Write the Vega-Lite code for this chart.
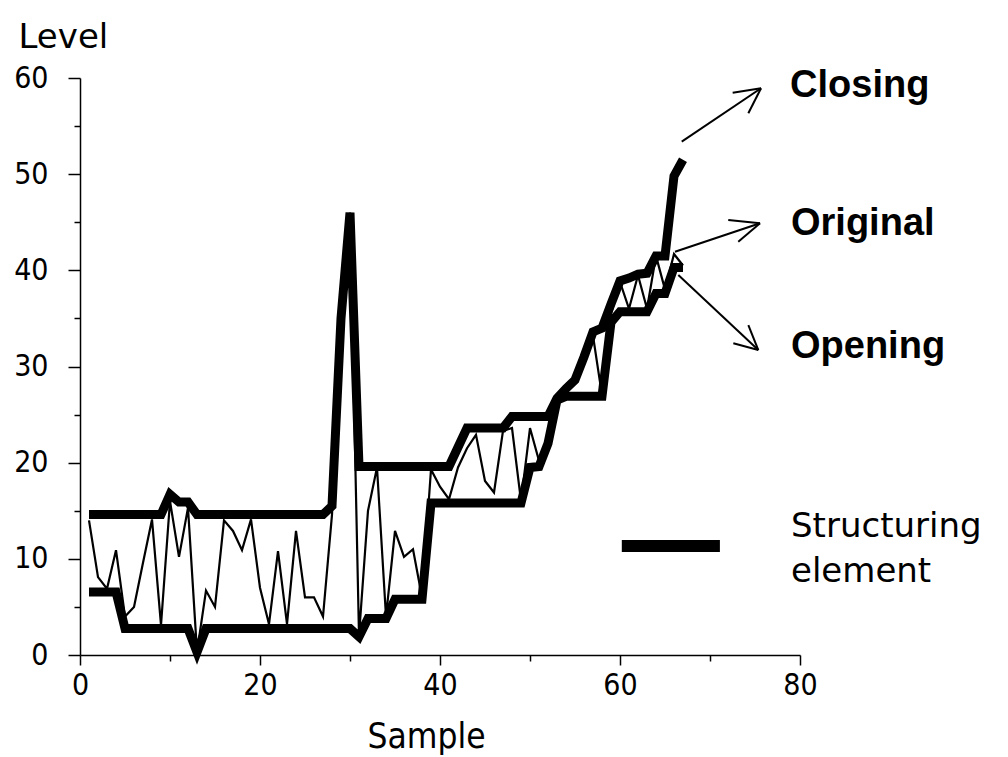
{
  "$schema": "https://vega.github.io/schema/vega-lite/v6.json",
  "width": 720,
  "height": 577,
  "autosize": {"type": "none"},
  "padding": {"left": 80, "top": 78, "right": 208, "bottom": 102},
  "background": "white",
  "config": {"view": {"stroke": null}},
  "datasets": {
    "orig": [
      {"sample":1,"level":14.0},{"sample":2,"level":8.1},{"sample":3,"level":6.9},{"sample":4,"level":10.9},{"sample":5,"level":4.0},{"sample":6,"level":5.0},{"sample":7,"level":9.6},{"sample":8,"level":14.1},{"sample":9,"level":3.1},{"sample":10,"level":16.0},{"sample":11,"level":10.2},{"sample":12,"level":15.3},{"sample":13,"level":0.3},{"sample":14,"level":6.7},{"sample":15,"level":5.0},{"sample":16,"level":14.0},{"sample":17,"level":12.9},{"sample":18,"level":10.9},{"sample":19,"level":14.1},{"sample":20,"level":7.0},{"sample":21,"level":3.2},{"sample":22,"level":10.8},{"sample":23,"level":3.2},{"sample":24,"level":12.9},{"sample":25,"level":6.0},{"sample":26,"level":6.0},{"sample":27,"level":4.0},{"sample":28,"level":14.6},{"sample":29,"level":35.0},{"sample":30,"level":46.0},{"sample":31,"level":2.0},{"sample":32,"level":15.0},{"sample":33,"level":19.5},{"sample":34,"level":4.0},{"sample":35,"level":12.9},{"sample":36,"level":10.2},{"sample":37,"level":11.0},{"sample":38,"level":6.0},{"sample":39,"level":19.3},{"sample":40,"level":17.5},{"sample":41,"level":16.2},{"sample":42,"level":19.5},{"sample":43,"level":21.5},{"sample":44,"level":22.9},{"sample":45,"level":18.1},{"sample":46,"level":16.9},{"sample":47,"level":23.3},{"sample":48,"level":23.6},{"sample":49,"level":16.0},{"sample":50,"level":23.6},{"sample":51,"level":20.2},{"sample":52,"level":22.0},{"sample":53,"level":26.5},{"sample":54,"level":27.5},{"sample":55,"level":28.5},{"sample":56,"level":31.0},{"sample":57,"level":33.2},{"sample":58,"level":27.0},{"sample":59,"level":35.5},{"sample":60,"level":38.8},{"sample":61,"level":36.0},{"sample":62,"level":39.5},{"sample":63,"level":36.0},{"sample":64,"level":41.5},{"sample":65,"level":38.0},{"sample":66,"level":41.7},{"sample":67,"level":40.5}
    ],
    "closing": [
      {"sample":1,"level":14.6},{"sample":2,"level":14.6},{"sample":3,"level":14.6},{"sample":4,"level":14.6},{"sample":5,"level":14.6},{"sample":6,"level":14.6},{"sample":7,"level":14.6},{"sample":8,"level":14.6},{"sample":9,"level":14.6},{"sample":10,"level":16.7},{"sample":11,"level":15.9},{"sample":12,"level":15.9},{"sample":13,"level":14.6},{"sample":14,"level":14.6},{"sample":15,"level":14.6},{"sample":16,"level":14.6},{"sample":17,"level":14.6},{"sample":18,"level":14.6},{"sample":19,"level":14.6},{"sample":20,"level":14.6},{"sample":21,"level":14.6},{"sample":22,"level":14.6},{"sample":23,"level":14.6},{"sample":24,"level":14.6},{"sample":25,"level":14.6},{"sample":26,"level":14.6},{"sample":27,"level":14.6},{"sample":28,"level":15.5},{"sample":29,"level":35.0},{"sample":30,"level":46.0},{"sample":31,"level":19.6},{"sample":32,"level":19.6},{"sample":33,"level":19.6},{"sample":34,"level":19.6},{"sample":35,"level":19.6},{"sample":36,"level":19.6},{"sample":37,"level":19.6},{"sample":38,"level":19.6},{"sample":39,"level":19.6},{"sample":40,"level":19.6},{"sample":41,"level":19.6},{"sample":42,"level":21.6},{"sample":43,"level":23.6},{"sample":44,"level":23.6},{"sample":45,"level":23.6},{"sample":46,"level":23.6},{"sample":47,"level":23.6},{"sample":48,"level":24.8},{"sample":49,"level":24.8},{"sample":50,"level":24.8},{"sample":51,"level":24.8},{"sample":52,"level":24.8},{"sample":53,"level":26.7},{"sample":54,"level":27.7},{"sample":55,"level":28.6},{"sample":56,"level":31.0},{"sample":57,"level":33.6},{"sample":58,"level":34.0},{"sample":59,"level":36.5},{"sample":60,"level":38.9},{"sample":61,"level":39.2},{"sample":62,"level":39.6},{"sample":63,"level":39.7},{"sample":64,"level":41.5},{"sample":65,"level":41.5},{"sample":66,"level":49.8},{"sample":67,"level":51.5}
    ],
    "opening": [
      {"sample":1,"level":6.55},{"sample":2,"level":6.55},{"sample":3,"level":6.55},{"sample":4,"level":6.55},{"sample":5,"level":2.75},{"sample":6,"level":2.75},{"sample":7,"level":2.75},{"sample":8,"level":2.75},{"sample":9,"level":2.75},{"sample":10,"level":2.75},{"sample":11,"level":2.75},{"sample":12,"level":2.75},{"sample":13,"level":0.3},{"sample":14,"level":2.75},{"sample":15,"level":2.75},{"sample":16,"level":2.75},{"sample":17,"level":2.75},{"sample":18,"level":2.75},{"sample":19,"level":2.75},{"sample":20,"level":2.75},{"sample":21,"level":2.75},{"sample":22,"level":2.75},{"sample":23,"level":2.75},{"sample":24,"level":2.75},{"sample":25,"level":2.75},{"sample":26,"level":2.75},{"sample":27,"level":2.75},{"sample":28,"level":2.75},{"sample":29,"level":2.75},{"sample":30,"level":2.75},{"sample":31,"level":1.9},{"sample":32,"level":3.8},{"sample":33,"level":3.8},{"sample":34,"level":3.8},{"sample":35,"level":5.8},{"sample":36,"level":5.8},{"sample":37,"level":5.8},{"sample":38,"level":5.8},{"sample":39,"level":15.8},{"sample":40,"level":15.8},{"sample":41,"level":15.8},{"sample":42,"level":15.8},{"sample":43,"level":15.8},{"sample":44,"level":15.8},{"sample":45,"level":15.8},{"sample":46,"level":15.8},{"sample":47,"level":15.8},{"sample":48,"level":15.8},{"sample":49,"level":15.8},{"sample":50,"level":19.5},{"sample":51,"level":19.6},{"sample":52,"level":22.0},{"sample":53,"level":26.5},{"sample":54,"level":26.9},{"sample":55,"level":26.9},{"sample":56,"level":26.9},{"sample":57,"level":26.9},{"sample":58,"level":26.9},{"sample":59,"level":34.6},{"sample":60,"level":35.7},{"sample":61,"level":35.7},{"sample":62,"level":35.7},{"sample":63,"level":35.7},{"sample":64,"level":37.6},{"sample":65,"level":37.6},{"sample":66,"level":40.3},{"sample":67,"level":40.3}
    ],
    "arrows": [
      {"sample":66.86,"level":53.38,"sample2":75.67,"level2":58.93},
      {"sample":72.52,"level":58.47,"sample2":75.67,"level2":58.93},
      {"sample":74.26,"level":56.33,"sample2":75.67,"level2":58.93},
      {"sample":66.11,"level":41.94,"sample2":75.56,"level2":44.89},
      {"sample":72.03,"level":45.23,"sample2":75.56,"level2":44.89},
      {"sample":73.14,"level":42.98,"sample2":75.56,"level2":44.89},
      {"sample":66.48,"level":39.51,"sample2":75.37,"level2":31.71},
      {"sample":72.59,"level":32.41,"sample2":75.37,"level2":31.71},
      {"sample":74.26,"level":34.31,"sample2":75.37,"level2":31.71}
    ],
    "names": [
      {"label":"Closing","sample":78.9,"level":58.05},
      {"label":"Original","sample":79.0,"level":43.67},
      {"label":"Opening","sample":79.0,"level":30.85}
    ],
    "legendText": [
      {"label":"Structuring","sample":79.0,"level":12.3},
      {"label":"element","sample":79.0,"level":7.62}
    ],
    "legendBar": [
      {"sample":60.2,"sample2":71.1,"level":11.33}
    ]
  },
  "encoding": {
    "x": {
      "field": "sample", "type": "quantitative",
      "scale": {"domain": [0, 80], "nice": false, "zero": false},
      "axis": {
        "values": [0, 10, 20, 30, 40, 50, 60, 70, 80],
        "labelExpr": "datum.value % 20 === 0 ? datum.label : ''",
        "labelFlush": false,
        "labelOverlap": false,
        "grid": false,
        "domainColor": "black", "domainWidth": 1.5,
        "tickColor": "black", "tickWidth": 1.5,
        "tickSize": {"condition": {"test": "datum.value % 20 === 0", "value": 10}, "value": 6},
        "labelPadding": 5,
        "labelFont": "DejaVu Sans Condensed", "labelFontSize": 30, "labelColor": "black",
        "title": "Sample",
        "titleFont": "DejaVu Sans Condensed", "titleFontSize": 35, "titleFontWeight": "normal", "titleColor": "black",
        "titleX": 346, "titleY": 92, "titleAlign": "center", "titleBaseline": "alphabetic"
      }
    },
    "y": {
      "field": "level", "type": "quantitative",
      "scale": {"domain": [0, 60], "nice": false, "zero": false},
      "axis": {
        "values": [0, 5, 10, 15, 20, 25, 30, 35, 40, 45, 50, 55, 60],
        "labelExpr": "datum.value % 10 === 0 ? datum.label : ''",
        "labelFlush": false,
        "labelOverlap": false,
        "grid": false,
        "domainColor": "black", "domainWidth": 1.5,
        "tickColor": "black", "tickWidth": 1.5,
        "tickSize": {"condition": {"test": "datum.value % 10 === 0", "value": 12}, "value": 6},
        "labelPadding": 20,
        "labelFont": "DejaVu Sans Condensed", "labelFontSize": 30, "labelColor": "black",
        "title": "Level",
        "titleFont": "DejaVu Sans", "titleFontSize": 34, "titleFontWeight": "normal", "titleColor": "black",
        "titleAngle": 0, "titleX": -62, "titleY": -31, "titleAlign": "left", "titleBaseline": "alphabetic"
      }
    }
  },
  "layer": [
    {
      "data": {"name": "orig"},
      "mark": {"type": "line", "color": "black", "strokeWidth": 2.2, "clip": false}
    },
    {
      "data": {"name": "closing"},
      "mark": {"type": "line", "color": "black", "strokeWidth": 9, "clip": false}
    },
    {
      "data": {"name": "opening"},
      "mark": {"type": "line", "color": "black", "strokeWidth": 9, "clip": false}
    },
    {
      "data": {"name": "arrows"},
      "mark": {"type": "rule", "color": "black", "strokeWidth": 2, "clip": false},
      "encoding": {
        "x2": {"field": "sample2"},
        "y2": {"field": "level2"}
      }
    },
    {
      "data": {"name": "names"},
      "mark": {"type": "text", "color": "black", "font": "Liberation Sans", "fontWeight": "bold", "fontSize": 38, "align": "left", "baseline": "alphabetic", "clip": false},
      "encoding": {
        "text": {"field": "label"}
      }
    },
    {
      "data": {"name": "legendBar"},
      "mark": {"type": "rule", "color": "black", "strokeWidth": 12, "strokeCap": "butt", "clip": false},
      "encoding": {
        "x2": {"field": "sample2"}
      }
    },
    {
      "data": {"name": "legendText"},
      "mark": {"type": "text", "color": "black", "font": "DejaVu Sans", "fontSize": 34, "align": "left", "baseline": "alphabetic", "clip": false},
      "encoding": {
        "text": {"field": "label"}
      }
    }
  ]
}
